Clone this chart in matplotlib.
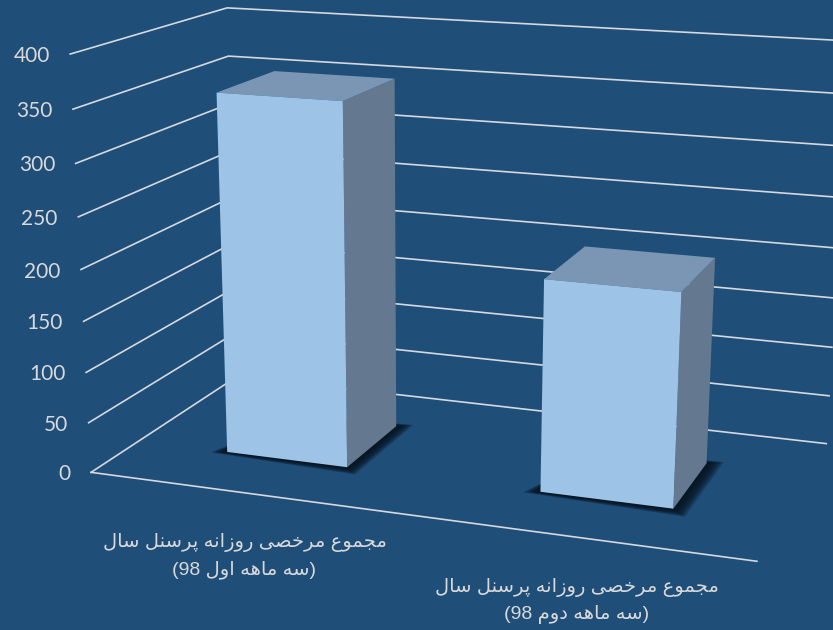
import numpy as np
import matplotlib
matplotlib.use("Agg")
import matplotlib.pyplot as plt

# chart values
categories = ["مجموع مرخصی روزانه پرسنل سال\n(سه ماهه اول 98)",
              "مجموع مرخصی روزانه پرسنل سال\n(سه ماهه دوم 98)"]
values = [355, 205]
yticks = [0, 50, 100, 150, 200, 250, 300, 350, 400]

BG = "#1F4E79"
GRID = "#D4D9DE"
TEXT = "#D9D9D9"

# camera of the 3D chart: (slot, value, depth) seen at (px, py), solved below
camera_x = [0, 0, 0, 0, 0, 0, 0, 0, 2, 2, 2, 2, 2, 2]
camera_v = [0, 100, 200, 300, 400, 400, 350, 0, 0, 0, 50, 100, 400, 200]
camera_z = [0, 0, 0, 0, 0, 1, 1, 1, 0, 1, 1, 1, 1, 1]
camera_px = [91, 86, 80, 76, 71, 227, 228, 238, 757, 826, 829, 832, 850, 838]
camera_py = [472, 373, 270, 163, 54, 8, 56, 376, 561, 444, 396, 347, 41, 248]

rows = []
for X, V, Z, u, v in zip(camera_x, camera_v, camera_z, camera_px, camera_py):
    V = V / 100
    rows.append([X, V, Z, 1, 0, 0, 0, 0, -u * X, -u * V, -u * Z, -u])
    rows.append([0, 0, 0, 0, X, V, Z, 1, -v * X, -v * V, -v * Z, -v])
P = np.linalg.svd(np.array(rows, float))[2][-1].reshape(3, 4)


def proj(X, V, Z):
    h = P @ np.array([X, V / 100, Z, 1.0])
    return h[0] / h[2], h[1] / h[2]


def face(*corners):
    return np.array([proj(*c) for c in corners])


# matplotlib does no Arabic shaping, so pick the joined forms by hand
FORMS = {
    "ا": "\uFE8D\uFE8E", "د": "\uFEA9\uFEAA", "ر": "\uFEAD\uFEAE",
    "ز": "\uFEAF\uFEB0", "و": "\uFEED\uFEEE",
    "ج": "\uFE9D\uFE9E\uFE9F\uFEA0", "خ": "\uFEA5\uFEA6\uFEA7\uFEA8",
    "س": "\uFEB1\uFEB2\uFEB3\uFEB4", "ص": "\uFEB9\uFEBA\uFEBB\uFEBC",
    "ع": "\uFEC9\uFECA\uFECB\uFECC", "ل": "\uFEDD\uFEDE\uFEDF\uFEE0",
    "م": "\uFEE1\uFEE2\uFEE3\uFEE4", "ن": "\uFEE5\uFEE6\uFEE7\uFEE8",
    "ه": "\uFEE9\uFEEA\uFEEB\uFEEC", "پ": "\uFB56\uFB57\uFB58\uFB59",
    "ی": "\uFBFC\uFBFD\uFBFE\uFBFF",
}


def rtl(line):
    shaped = []
    for i, c in enumerate(line):
        if c not in FORMS:
            shaped.append(c)
            continue
        prev = line[i - 1] if i > 0 else ""
        nxt = line[i + 1] if i + 1 < len(line) else ""
        joins_prev = prev in FORMS and len(FORMS[prev]) == 4
        joins_next = nxt in FORMS and len(FORMS[c]) == 4
        if joins_prev and joins_next:
            idx = 3
        elif joins_next:
            idx = 2
        elif joins_prev:
            idx = 1
        else:
            idx = 0
        shaped.append(FORMS[c][idx])
    # visual order: reverse everything, keep digit runs, mirror brackets
    out = "".join(reversed(shaped)).translate(str.maketrans("()", ")("))
    fixed = []
    for w in out.split(" "):
        digits = "".join(ch for ch in w if ch.isdigit())
        fixed.append(w.replace(digits, digits[::-1]) if digits else w)
    return " ".join(fixed)


fig = plt.figure(figsize=(8.33, 6.30), dpi=100, facecolor=BG)
ax = fig.add_axes([0, 0, 1, 1])
ax.set_xlim(0, 833)
ax.set_ylim(630, 0)
ax.axis("off")

# walls: each gridline runs along the side wall and then the back wall
for t in yticks:
    pts = face((0, t, 0), (0, t, 1), (2, t, 1))
    ax.plot(pts[:, 0], pts[:, 1], color=GRID, lw=1.2, zorder=1)
    px, py = proj(0, t, 0)
    ax.text(px - 20.5, py + 2, str(t), color=TEXT, fontsize=15, family="Lato",
            ha="right", va="center")
pts = face((0, 0, 0), (2, 0, 0))
ax.plot(pts[:, 0], pts[:, 1], color=GRID, lw=1.2, zorder=1)

# bars
for i, val in enumerate(values):
    x0, x1 = i + 0.3, i + 0.695
    z0, z1 = 0.3, 0.70
    # soft shadow on the floor
    for d in np.linspace(0.085, 0.0, 16):
        base = face((x0 - d * 0.55, 0, z0 - d * 0.25), (x1 + d * 0.55, 0, z0 - d * 0.6),
                    (x1 + d * 0.55, 0, z1 + d * 0.35), (x0 + d, 0, z1))
        ax.fill(base[:, 0], base[:, 1], color="#081522", alpha=0.17, lw=0, zorder=2)
    front = face((x0, 0, z0), (x1, 0, z0), (x1, val, z0), (x0, val, z0))
    side = face((x1, 0, z0), (x1, 0, z1), (x1, val, z1), (x1, val, z0))
    top = face((x0, val, z0), (x1, val, z0), (x1, val, z1), (x0, val, z1))
    ax.fill(side[:, 0], side[:, 1], color="#64798F", lw=0, zorder=3)
    ax.fill(top[:, 0], top[:, 1], color="#7B96B4", lw=0, zorder=3)
    ax.fill(front[:, 0], front[:, 1], color="#9DC3E6", lw=0, zorder=4)

    # category label under the floor edge
    px, py = proj(i + 0.5, 0, 0)
    lines = categories[i].split("\n")
    for k, line in enumerate(lines):
        ax.text(px, py + 50 + k * 27, rtl(line), color=TEXT, fontsize=14,
                family=["Liberation Sans", "DejaVu Sans"], ha="center", va="center")

fig.savefig("out.png", dpi=100, facecolor=BG)
